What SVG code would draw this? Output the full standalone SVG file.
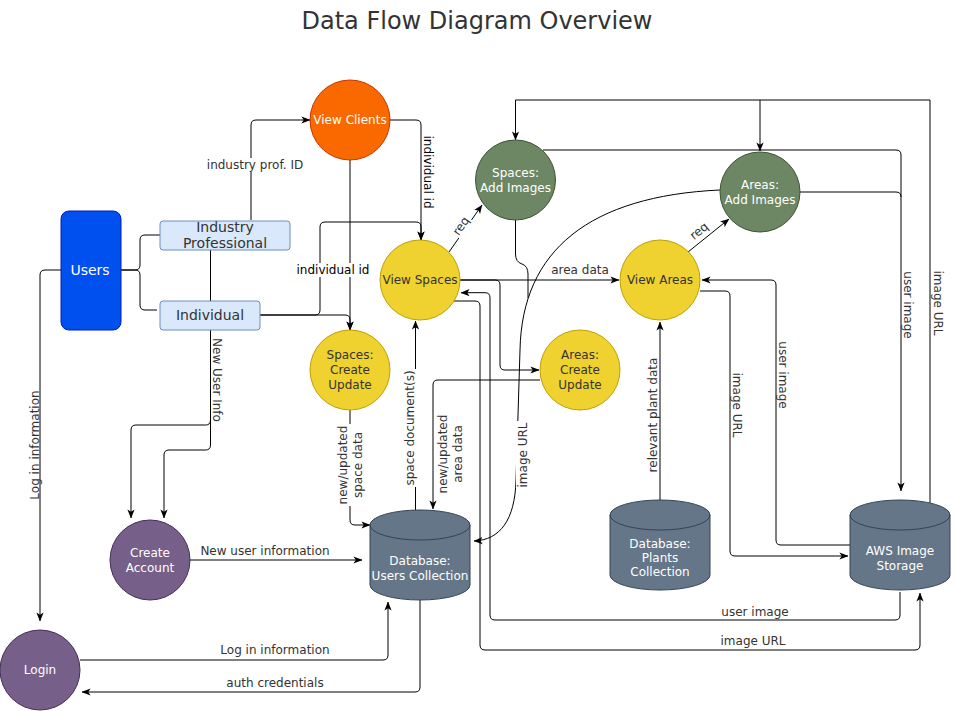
<svg xmlns="http://www.w3.org/2000/svg" width="954" height="711" viewBox="0 0 954 711">
<defs>
<marker id="arr" viewBox="0 0 10 10" refX="9.5" refY="5" markerWidth="9" markerHeight="9" markerUnits="userSpaceOnUse" orient="auto">
<path d="M0,1 L10,5 L0,9 L2.5,5 Z" fill="#000"/>
</marker>
<style>
text{font-family:"DejaVu Sans",Verdana,sans-serif;font-size:12px;dominant-baseline:central;text-anchor:middle}
.c{fill:none;stroke:#000;stroke-width:1}
.ar{marker-end:url(#arr)}
.lb{fill:#333}
.lk{fill:#000}
.bg{fill:#fff}
.wt{fill:#fff}
.dk{fill:#333}
.big{font-size:14px}
.yl{fill:#efd12f;stroke:#c09f00}
.gr{fill:#6d8764;stroke:#3a5431}
.pu{fill:#76608a;stroke:#432d57}
.or{fill:#fa6800;stroke:#c73500}
.bl{fill:#0050ef;stroke:#001dbc}
.lbx{fill:#dae8fc;stroke:#6c8ebf}
.cy{fill:#647687;stroke:#314354}
</style>
</defs>
<rect width="954" height="711" fill="#fff"/>
<text x="477" y="21" style="font-size:24px" fill="#333">Data Flow Diagram Overview</text>

<g id="connectors">
<path class="c" d="M121,270 H135 Q140,270 140,265 V240 Q140,235 145,235 H160"/>
<path class="c" d="M121,270 H135 Q140,270 140,275 V305 Q140,310 145,310 H157"/>
<path class="c ar" d="M251,220 V125 Q251,120 256,120 H310"/>
<path class="c ar" d="M390,120 H416 Q421,120 421,125 V240"/>
<path class="c ar" d="M350,160 V330"/>
<path class="c ar" d="M260,315 H315 Q320,315 320,310 V227 Q320,222 325,222 H416 Q421,222 421,227 V240"/>
<path class="c ar" d="M260,315 H345 Q350,315 350,320 V330"/>
<path class="c ar" d="M210.5,250 V420 Q210.5,425 205.5,425 H136 Q131,425 131,430 V518"/>
<path class="c ar" d="M210.5,330 V445 Q210.5,450 205.5,450 H169 Q164,450 164,455 V518"/>
<path class="c ar" d="M61,270 H45 Q40,270 40,275 V621"/>
<path class="c ar" d="M190,560 H362"/>
<path class="c ar" d="M80,660 H383 Q388,660 388,655 V602"/>
<path class="c ar" d="M420,600 V687 Q420,692 415,692 H82"/>
<path class="c ar" d="M350,410 V520 Q350,525 355,525 H370"/>
<path class="c ar" d="M415.5,510 V321"/>
<path class="c ar" d="M540,380 H438 Q433,380 433,385 V509"/>
<path class="c ar" d="M460,280 H619"/>
<path class="c ar" d="M460,280 H495 Q500,280 500,285 V365 Q500,370 505,370 H539"/>
<path class="c ar" d="M449,252 L482,205"/>
<path class="c ar" d="M688,252 L729,219"/>
<path class="c ar" d="M930,503 V100 H515.5 V140"/>
<path class="c ar" d="M760,100 V151"/>
<path class="c ar" d="M543,150 H896 Q901,150 901,155 V491"/>
<path class="c" d="M800,192 H896 Q901,192 901,197"/>
<path class="c ar" d="M720,190 C590,196 522,250 520,350 L516,480 C515,520 500,540 474,541"/>
<path class="c" d="M515.5,220 V254 Q515.5,262 522,264 Q528,266 528,274 V298"/>
<path class="c ar" d="M700,291 H725 Q730,291 730,296 V551 Q730,556 735,556 H848"/>
<path class="c ar" d="M850,545 H781 Q776,545 776,540 V285 Q776,280 771,280 H702"/>
<path class="c ar" d="M660,500 V322"/>
<path class="c ar" d="M900,592 V615 Q900,620 895,620 H495 Q490,620 490,615 V297.7 Q490,292.7 485,292.7 H461"/>
<path class="c ar" d="M453,301 H475 Q480,301 480,306 V645 Q480,650 485,650 H915 Q920,650 920,645 V593"/>
</g>

<g id="labels">
<rect class="bg" x="205" y="158" width="100" height="14"/>
<text class="lb" x="255" y="165">industry prof. ID</text>
<text class="lk" transform="translate(428,172) rotate(90)">individual id</text>
<rect class="bg" x="296" y="263" width="74" height="14"/>
<text class="lk" x="333" y="270">individual id</text>
<text class="lb" transform="translate(217,380) rotate(90)">New User Info</text>
<text class="lb" transform="translate(35,445) rotate(-90)">Log in information</text>
<text class="lb" x="265" y="551">New user information</text>
<text class="lb" x="275" y="650">Log in information</text>
<text class="lb" x="275" y="683">auth credentials</text>
<g transform="translate(350,465) rotate(-90)">
<rect class="bg" x="-41" y="-15" width="82" height="30"/>
<text class="lb" x="0" y="-7.5">new/updated</text>
<text class="lb" x="0" y="7.5">space data</text>
</g>
<g transform="translate(410,428) rotate(-90)">
<rect class="bg" x="-59" y="-7" width="118" height="14"/>
<text class="lb" x="0" y="0">space document(s)</text>
</g>
<g transform="translate(450,454) rotate(-90)">
<text class="lb" x="0" y="-7.5">new/updated</text>
<text class="lb" x="0" y="7.5">area data</text>
</g>
<g transform="translate(523,455) rotate(-90)">
<rect class="bg" x="-34" y="-7" width="68" height="14"/>
<text class="lb" x="0" y="0">image URL</text>
</g>
<text class="lb" x="580" y="270">area data</text>
<g transform="translate(461,226) rotate(-55)">
<rect class="bg" x="-11" y="-7" width="22" height="14"/>
<text class="lb" x="0" y="0">req</text>
</g>
<g transform="translate(699,231) rotate(-39)">
<rect class="bg" x="-11" y="-7" width="22" height="14"/>
<text class="lb" x="0" y="0">req</text>
</g>
<text class="lb" transform="translate(938,303) rotate(90)">image URL</text>
<text class="lb" transform="translate(908,305) rotate(90)">user image</text>
<text class="lb" transform="translate(737,405) rotate(90)">image URL</text>
<text class="lb" transform="translate(783,375) rotate(90)">user image</text>
<text class="lb" transform="translate(653,415) rotate(-90)">relevant plant data</text>
<text class="lb" x="755" y="612">user image</text>
<text class="lb" x="753" y="641">image URL</text>
</g>

<g id="users">
<rect class="bl" x="61" y="211" width="60" height="119" rx="8"/>
<text class="wt big" x="90" y="270">Users</text>
</g>
<g id="industry-professional">
<rect class="lbx" x="160" y="221" width="130" height="29" rx="3"/>
<text class="dk big" x="225" y="227">Industry</text>
<text class="dk big" x="225" y="243">Professional</text>
</g>
<g id="individual">
<rect class="lbx" x="160" y="301" width="100" height="29" rx="3"/>
<text class="dk big" x="210" y="315">Individual</text>
</g>
<g id="view-clients">
<circle class="or" cx="350" cy="120" r="40"/>
<text class="wt" x="350" y="120">View Clients</text>
</g>
<g id="view-spaces">
<circle class="yl" cx="420" cy="280" r="40"/>
<text class="dk" x="420" y="280">View Spaces</text>
</g>
<g id="spaces-create-update">
<circle class="yl" cx="350" cy="370" r="40"/>
<text class="dk" x="350" y="355">Spaces:</text>
<text class="dk" x="350" y="370">Create</text>
<text class="dk" x="350" y="385">Update</text>
</g>
<g id="areas-create-update">
<circle class="yl" cx="580" cy="370" r="40"/>
<text class="dk" x="580" y="355">Areas:</text>
<text class="dk" x="580" y="370">Create</text>
<text class="dk" x="580" y="385">Update</text>
</g>
<g id="view-areas">
<circle class="yl" cx="660" cy="280" r="40"/>
<text class="dk" x="660" y="280">View Areas</text>
</g>
<g id="spaces-add-images">
<circle class="gr" cx="515.5" cy="180" r="40"/>
<text class="wt" x="515.5" y="172.5">Spaces:</text>
<text class="wt" x="515.5" y="187.5">Add Images</text>
</g>
<g id="areas-add-images">
<circle class="gr" cx="760" cy="192" r="40"/>
<text class="wt" x="760" y="184.5">Areas:</text>
<text class="wt" x="760" y="199.5">Add Images</text>
</g>
<g id="create-account">
<circle class="pu" cx="150" cy="560" r="40"/>
<text class="wt" x="150" y="552.5">Create</text>
<text class="wt" x="150" y="567.5">Account</text>
</g>
<g id="login">
<circle class="pu" cx="40" cy="670" r="40"/>
<text class="wt" x="40" y="670">Login</text>
</g>
<g id="db-users">
<path class="cy" d="M370,525 A50,15 0 0 1 470,525 V585 A50,15 0 0 1 370,585 Z"/>
<path class="c" style="stroke:#314354" d="M370,525 A50,15 0 0 0 470,525"/>
<text class="wt" x="420" y="561">Database:</text>
<text class="wt" x="420" y="576">Users Collection</text>
</g>
<g id="db-plants">
<path class="cy" d="M610,515 A50,15 0 0 1 710,515 V575 A50,15 0 0 1 610,575 Z"/>
<path class="c" style="stroke:#314354" d="M610,515 A50,15 0 0 0 710,515"/>
<text class="wt" x="660" y="544">Database:</text>
<text class="wt" x="660" y="558">Plants</text>
<text class="wt" x="660" y="572">Collection</text>
</g>
<g id="aws-image-storage">
<path class="cy" d="M850,515 A50,15 0 0 1 950,515 V575 A50,15 0 0 1 850,575 Z"/>
<path class="c" style="stroke:#314354" d="M850,515 A50,15 0 0 0 950,515"/>
<text class="wt" x="900" y="551">AWS Image</text>
<text class="wt" x="900" y="566">Storage</text>
</g>
</svg>
